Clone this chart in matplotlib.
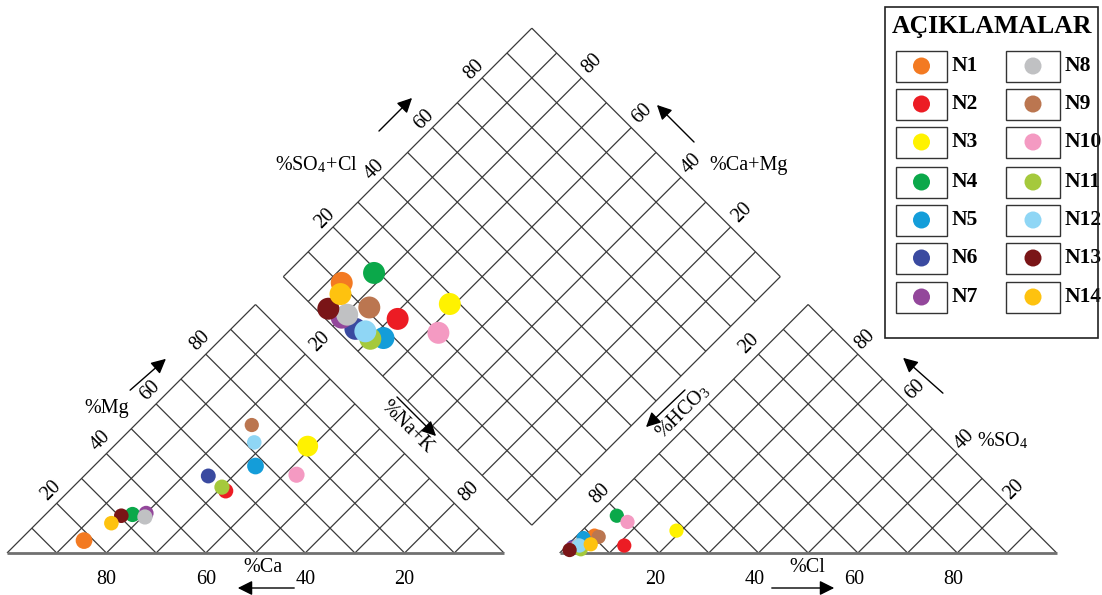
import matplotlib.pyplot as plt
from matplotlib.patches import Rectangle

plt.rcParams['font.family'] = 'Liberation Serif'
plt.rcParams['mathtext.fontset'] = 'stix'

samples = ['N1', 'N2', 'N3', 'N4', 'N5', 'N6', 'N7',
           'N8', 'N9', 'N10', 'N11', 'N12', 'N13', 'N14']
colors = ['#f37a22', '#ec1c24', '#fff200', '#0ba84a', '#149dd9', '#3a4aa0', '#93479b',
          '#c0c1c3', '#bb7650', '#f49ac2', '#a5c93c', '#8fd6f5', '#7a1517', '#fec20f']

# cations (%)
ca = [82, 43.5, 18, 67, 32.5, 44, 64, 65, 25, 26, 43.5, 28, 69.5, 73]
mg = [5, 25, 43, 15.5, 35, 31, 16, 14.5, 51.5, 31.5, 26.5, 44.5, 15, 12]
na_k = [13, 31.5, 39, 17.5, 32.5, 25, 20, 20.5, 23.5, 42.5, 30, 27.5, 15.5, 15]
# anions (%)
hco3 = [89.5, 85.5, 72, 81, 92.2, 96, 96.5, 94.8, 88.9, 80.1, 95, 94.5, 97.4, 92]
so4 = [7, 3, 9, 15, 6, 2.5, 2, 3, 6.5, 12.5, 1.5, 3, 1.2, 3.5]
cl = [3.5, 11.5, 19, 4, 1.8, 1.5, 1.5, 2.2, 4.6, 7.4, 3.5, 2.5, 1.4, 4.5]

# marker sizes in the cation triangle (they differ a bit in the original)
cat_size = [145, 120, 225, 120, 145, 115, 115, 120, 105, 135, 120, 110, 110, 110]

G = 0.112          # gap between the two triangles (base = 1)
S, X0, Y0 = 497, 7, 553   # px per unit, pixel origin of the cation triangle


def cat_xy(c, m, n):
    return (n + m / 2) / 100, (m / 2) / 100


def an_xy(h, s, c):
    return 1 + G + (c + s / 2) / 100, (s / 2) / 100


def dia_xy(camg, so4cl):
    return 1 + G / 2 + 0.5 * (so4cl - camg) / 100, G / 2 + 0.5 * (so4cl + camg) / 100


def P(x, y):
    return (x - X0) / S, (Y0 - y) / S


def off(pt, dx, dy):
    return pt[0] + dx / S, pt[1] - dy / S


fig = plt.figure(figsize=(11.02, 5.95), dpi=100)
ax = fig.add_axes([0, 0, 1, 1])
ax.set_xlim(-X0 / S, (1102 - X0) / S)
ax.set_ylim(-(595 - Y0) / S, Y0 / S)
ax.axis('off')

lc, lw = '#3a3a3a', 0.9


def seg(a, b, **kw):
    ax.plot([a[0], b[0]], [a[1], b[1]], color=kw.get('c', lc), lw=kw.get('lw', lw),
            solid_capstyle='butt', zorder=1)


# grid lines
for k in range(10, 100, 10):
    seg(cat_xy(k, 0, 100 - k), cat_xy(k, 100 - k, 0))
    seg(cat_xy(100 - k, 0, k), cat_xy(0, 100 - k, k))
    seg(an_xy(k, 0, 100 - k), an_xy(k, 100 - k, 0))
    seg(an_xy(100 - k, 0, k), an_xy(0, 100 - k, k))
    seg(dia_xy(k, 0), dia_xy(k, 100))
    seg(dia_xy(0, k), dia_xy(100, k))

# outlines
seg(cat_xy(100, 0, 0), cat_xy(0, 100, 0))
seg(cat_xy(0, 100, 0), cat_xy(0, 0, 100))
seg(cat_xy(100, 0, 0), cat_xy(0, 0, 100), c='#707070', lw=2)
seg(an_xy(100, 0, 0), an_xy(0, 100, 0))
seg(an_xy(0, 100, 0), an_xy(0, 0, 100))
seg(an_xy(100, 0, 0), an_xy(0, 0, 100), c='#707070', lw=2)
for a, b in [((0, 0), (100, 0)), ((100, 0), (100, 100)), ((100, 100), (0, 100)), ((0, 100), (0, 0))]:
    seg(dia_xy(*a), dia_xy(*b))

# samples
for i in range(len(samples)):
    x, y = cat_xy(ca[i], mg[i], na_k[i])
    ax.scatter(x, y, s=cat_size[i], color=colors[i], edgecolors='none', zorder=3)
    x, y = an_xy(hco3[i], so4[i], cl[i])
    ax.scatter(x, y, s=105, color=colors[i], edgecolors='none', zorder=3)
    x, y = dia_xy(ca[i] + mg[i], so4[i] + cl[i])
    ax.scatter(x, y, s=250, color=colors[i], edgecolors='none', zorder=3)

fs = 14.5
tk = dict(fontsize=fs, ha='center', va='center')
for k in [80, 60, 40, 20]:
    ax.text(*off(cat_xy(k, 0, 100 - k), 0, 27), str(k), **tk)
    ax.text(*off(an_xy(100 - k, 0, k), -4, 27), str(k), **tk)
    ax.text(*off(cat_xy(100 - k, k, 0), -6, -13), str(k), rotation=45, **tk)
    ax.text(*off(dia_xy(100, k), -8, -8), str(k), rotation=45, **tk)
    ax.text(*off(dia_xy(k, 100), 11, -14), str(k), rotation=45, **tk)
    ax.text(*off(an_xy(0, k, 100 - k), 7, -14), str(k), rotation=45, **tk)
for k in [20, 80]:
    ax.text(*off(cat_xy(0, 100 - k, k), 15, -12), str(k), rotation=45, **tk)
    ax.text(*off(an_xy(k, 100 - k, 0), -9, -10), str(k), rotation=45, **tk)

# axis titles
ax.text(*P(263, 567), '%Ca', **tk)
ax.text(*P(107, 408), '%Mg', **tk)
ax.text(*P(407, 427), '%Na+K', rotation=-45, **tk)
ax.text(*P(316, 165), '%SO$_\\mathregular{4}$+Cl', **tk)
ax.text(*P(749, 165), '%Ca+Mg', **tk)
ax.text(*P(807, 567), '%Cl', **tk)
ax.text(*P(683, 412), '%HCO$_\\mathregular{3}$', rotation=45, **tk)
ax.text(*P(1003, 441), '%SO$_\\mathregular{4}$', **tk)

arrows = [((297, 588), (235, 588)), ((128, 392), (168, 357)), ((395, 395), (438, 438)),
          ((377, 133), (414, 96)), ((696, 144), (655, 103)), ((769, 588), (837, 588)),
          ((687, 388), (644, 429)), ((945, 395), (901, 356))]
for a, b in arrows:
    ax.annotate('', xy=P(*b), xytext=P(*a),
                arrowprops=dict(arrowstyle='-|>', color='black', lw=1, mutation_scale=22))

# legend
x0, y0 = P(885, 338)
x1, y1 = P(1098, 7)
ax.add_patch(Rectangle((x0, y0), x1 - x0, y1 - y0, fill=False, ec='#222222', lw=1.2, zorder=4))
ax.text(*P(992, 27), 'AÇIKLAMALAR', fontsize=18.5, fontweight='bold', ha='center', va='center')
rows = [66, 104, 142, 182, 220, 258, 297]
for i, name in enumerate(samples):
    col, r = divmod(i, 7)
    bx = [896, 1006][col]
    bw = [51, 54][col]
    a = P(bx, rows[r] + 15.5)
    ax.add_patch(Rectangle(a, bw / S, 31 / S, fill=False, ec='#333333', lw=1, zorder=4))
    ax.scatter(*P(bx + bw / 2, rows[r]), s=150, color=colors[i], edgecolors='none', zorder=5)
    ax.text(*P(bx + bw + 5, rows[r]), name, fontsize=15.5, fontweight='bold', ha='left', va='center')

plt.savefig('out.png', dpi=100)
